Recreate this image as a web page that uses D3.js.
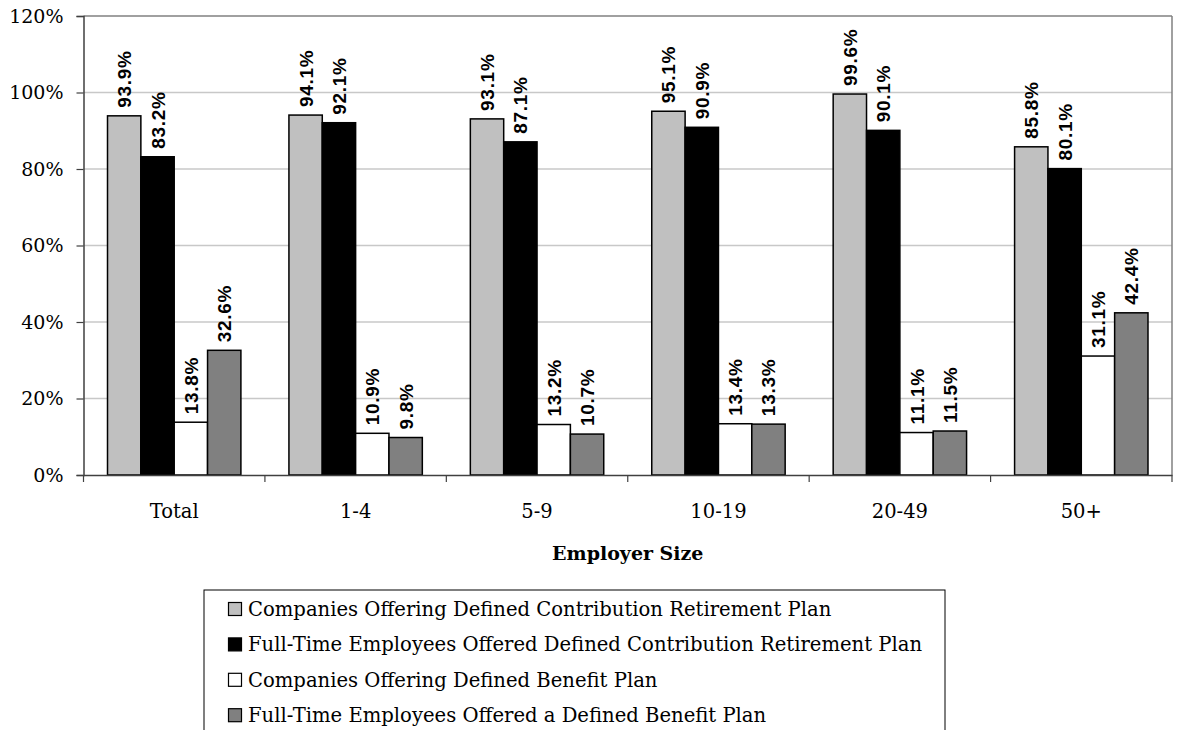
<!DOCTYPE html>
<html><head><meta charset="utf-8">
<script src="https://cdn.jsdelivr.net/npm/d3@7"></script>
<style>body{margin:0;background:#fff}svg{display:block}</style>
</head><body><svg id="c" width="1177" height="730"></svg>
<script>
const categories = ["Total","1-4","5-9","10-19","20-49","50+"];
const seriesNames = [
  "Companies Offering Defined Contribution Retirement Plan",
  "Full-Time Employees Offered Defined Contribution Retirement Plan",
  "Companies Offering Defined Benefit Plan",
  "Full-Time Employees Offered a Defined Benefit Plan"
];
const companiesDC = [93.9,94.1,93.1,95.1,99.6,85.8];
const employeesDC = [83.2,92.1,87.1,90.9,90.1,80.1];
const companiesDB = [13.8,10.9,13.2,13.4,11.1,31.1];
const employeesDB = [32.6,9.8,10.7,13.3,11.5,42.4];
const yTicks = [0,20,40,60,80,100,120];
const colors = ["#c0c0c0","#000000","#ffffff","#808080"];

const series = [companiesDC, employeesDC, companiesDB, employeesDB];
const svg = d3.select("#c");
const L=83.5, R=1172, T=16, B=475;
const x0 = d3.scaleBand().domain(categories).range([L,R]).paddingInner(0).paddingOuter(0);
const x1 = d3.scaleBand().domain(d3.range(4)).range([0,x0.bandwidth()]).paddingInner(0).paddingOuter(0.72);
const y = d3.scaleLinear().domain([0,120]).range([B,T]);
const serif = "'DejaVu Serif', serif";

// gridlines
svg.append("g").selectAll("line").data(yTicks.filter(d=>d>0)).join("line")
  .attr("x1",L).attr("x2",R).attr("y1",d=>y(d)).attr("y2",d=>y(d))
  .attr("stroke",d=>d===120?"#808080":"#c8c8c8").attr("stroke-width",1.5);
// right border
svg.append("line").attr("x1",R).attr("x2",R).attr("y1",T).attr("y2",B).attr("stroke","#808080").attr("stroke-width",1.5);

// y axis
const yAxis = svg.append("g").attr("transform",`translate(${L},0)`)
  .call(d3.axisLeft(y).tickValues(yTicks).tickFormat(d=>d+"%").tickSize(7).tickPadding(13));
yAxis.select(".domain").attr("stroke","#404040").attr("stroke-width",1.5);
yAxis.selectAll(".tick line").attr("stroke","#404040").attr("stroke-width",1.2);
yAxis.selectAll("text").attr("font-family",serif).attr("font-size",19).attr("fill","#000");

// bars
const groups = svg.append("g").selectAll("g").data(categories).join("g")
  .attr("transform",d=>`translate(${x0(d)},0)`);
groups.selectAll("rect").data((c,i)=>series.map((s,k)=>({k,v:s[i]}))).join("rect")
  .attr("x",d=>x1(d.k)).attr("width",x1.bandwidth())
  .attr("y",d=>y(d.v)).attr("height",d=>B-y(d.v))
  .attr("fill",d=>colors[d.k]).attr("stroke","#000").attr("stroke-width",1.5);
groups.selectAll("text").data((c,i)=>series.map((s,k)=>({k,v:s[i]}))).join("text")
  .attr("transform",d=>`translate(${x1(d.k)+x1.bandwidth()/2+7},${y(d.v)-8}) rotate(-90)`)
  .attr("font-family","'Liberation Sans', Arial, sans-serif").attr("font-weight","bold")
  .attr("font-size",19).attr("letter-spacing",0.7).attr("fill","#000")
  .text(d=>d.v.toFixed(1)+"%");

// x axis
const xAxis = svg.append("g").attr("transform",`translate(0,${B})`)
  .call(d3.axisBottom(x0).tickSize(0).tickPadding(29));
xAxis.select(".domain").attr("stroke","#404040").attr("stroke-width",1.5);
xAxis.selectAll("text").attr("font-family",serif).attr("font-size",19.5).attr("fill","#000");
// category boundary ticks
svg.append("g").selectAll("line").data(d3.range(categories.length+1)).join("line")
  .attr("x1",i=>L+i*x0.bandwidth()).attr("x2",i=>L+i*x0.bandwidth())
  .attr("y1",B).attr("y2",B+7).attr("stroke","#404040").attr("stroke-width",1.2);

svg.append("text").attr("x",(L+R)/2).attr("y",560).attr("text-anchor","middle")
  .attr("font-family",serif).attr("font-weight","bold").attr("font-size",19).text("Employer Size");

// legend
const lg = svg.append("g");
lg.append("rect").attr("x",204).attr("y",590).attr("width",741).attr("height",160)
  .attr("fill","#fff").attr("stroke","#000").attr("stroke-width",1);
const rows = lg.selectAll("g.r").data(seriesNames).join("g").attr("class","r")
  .attr("transform",(d,i)=>`translate(0,${616+i*35.4})`);
rows.append("rect").attr("x",228.5).attr("y",-13.5).attr("width",13).attr("height",13)
  .attr("fill",(d,i)=>colors[i]).attr("stroke","#000").attr("stroke-width",1.2);
rows.append("text").attr("x",248).attr("y",0).attr("font-family",serif).attr("font-size",19.6)
  .attr("fill","#000").text(d=>d);
</script></body></html>
